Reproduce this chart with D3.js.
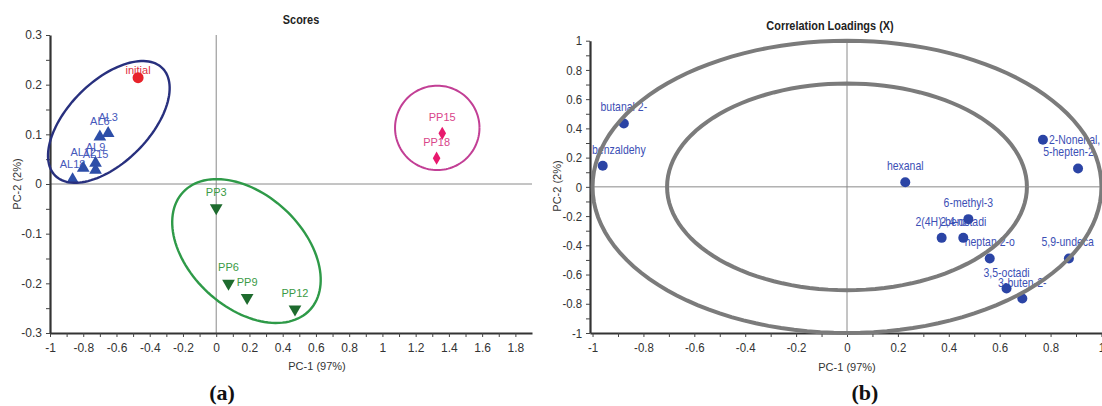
<!DOCTYPE html>
<html lang="en">
<head>
  <meta charset="UTF-8">
  <title>Scores / Correlation Loadings</title>
  <script src="https://cdn.jsdelivr.net/npm/d3@7"></script>
  <style>
    body { margin: 0; background: #fff; }
    svg text { font-family: "Liberation Sans", Arial, sans-serif; }
  </style>
</head>
<body>
<div id="grafica"></div>

<script>
// ---- data ----
// scores plot
const initialName = ['initial']
const initialPC1 = [-0.47]
const initialPC2 = [0.214]

const alNames = ['AL3', 'AL6', 'AL9', 'AL12', 'AL15', 'AL18']
const alPC1 = [-0.650, -0.700, -0.726, -0.800, -0.726, -0.864]
const alPC2 = [0.102, 0.095, 0.042, 0.032, 0.028, 0.009]

const ppNames = ['PP3', 'PP6', 'PP9', 'PP12']
const ppPC1 = [0.0, 0.074, 0.186, 0.474]
const ppPC2 = [-0.048, -0.200, -0.229, -0.252]

const pp2Names = ['PP15', 'PP18']
const pp2PC1 = [1.36, 1.326]
const pp2PC2 = [0.102, 0.052]

const scoreXTicks = [-1, -0.8, -0.6, -0.4, -0.2, 0, 0.2, 0.4, 0.6, 0.8, 1, 1.2, 1.4, 1.6, 1.8]
const scoreYTicks = [-0.3, -0.2, -0.1, 0, 0.1, 0.2, 0.3]

// correlation loadings
const loadNames = ['butanal 2-', 'benzaldehy', 'hexanal', '2-Nonenal,', '5-hepten-2', '6-methyl-3',
                   '2(4H)-benz', '2,4-octadi', 'heptan 2-o', '3,5-octadi', '3-buten-2-', '5,9-undeca']
const loadPC1 = [-0.877, -0.96, 0.229, 0.77, 0.908, 0.477, 0.372, 0.457, 0.561, 0.627, 0.689, 0.872]
const loadPC2 = [0.434, 0.144, 0.032, 0.322, 0.126, -0.221, -0.349, -0.349, -0.49, -0.696, -0.764, -0.49]

const loadTicks = [-1, -0.8, -0.6, -0.4, -0.2, 0, 0.2, 0.4, 0.6, 0.8, 1]

// ---- svg ----
svg = d3.select('#grafica')
  .append('svg')
  .attr('width', 1102)
  .attr('height', 406)

fmt = (d) => String(+d.toFixed(2))
NARROW = 0.84   // no Arial Narrow here, so squeeze horizontally

function ellipse(xs, ys, c, u, v) {
  pts = d3.range(0, 361, 3).map((t) => {
    a = t * Math.PI / 180
    return [xs(c[0] + u[0] * Math.cos(a) + v[0] * Math.sin(a)),
            ys(c[1] + u[1] * Math.cos(a) + v[1] * Math.sin(a))]
  })
  return d3.line()(pts)
}

function axes(g, xs, ys, xTicks, xStep, yTicks, yStep, narrow) {
  xAll = d3.range(Math.round(xTicks[0] / xStep), Math.round(d3.max(xTicks) / xStep) + 1).map(i => +(i * xStep).toFixed(3))
  yAll = d3.range(Math.round(yTicks[0] / yStep), Math.round(d3.max(yTicks) / yStep) + 1).map(i => +(i * yStep).toFixed(3))
  isMaj = (arr, d) => arr.some(t => Math.abs(t - d) < 1e-6)

  gx = g.append('g')
    .attr('transform', `translate(0, ${ys.range()[0]})`)
    .call(d3.axisBottom(xs).tickValues(xAll).tickSize(4).tickSizeOuter(0).tickPadding(6)
      .tickFormat(d => isMaj(xTicks, d) ? fmt(d) : ''))
  gy = g.append('g')
    .attr('transform', `translate(${xs.range()[0]}, 0)`)
    .call(d3.axisLeft(ys).tickValues(yAll).tickSize(4).tickSizeOuter(0).tickPadding(narrow ? 5 : 4)
      .tickFormat(d => isMaj(yTicks, d) ? fmt(d) : ''))

  ;[gx, gy].forEach(a => {
    a.select('.domain').attr('stroke', '#333').attr('stroke-width', 2.2)
    a.selectAll('line').attr('stroke', '#444')
    a.selectAll('text').attr('fill', '#333').style('font-size', narrow ? '13px' : '12px')
    if (narrow) a.selectAll('text').attr('transform', `scale(${NARROW + 0.04}, 1)`)
  })
}

// text squeezed like a condensed face
function narrowText(g, s, x, y, anchor) {
  return g.append('text').text(s)
    .attr('text-anchor', anchor || 'start')
    .attr('transform', `translate(${x}, ${y}) scale(${NARROW}, 1)`)
}

function labels(g, names, xv, yv, xs, ys, opts) {
  lo = xs.range()[0] + 2
  hi = opts.right
  k = opts.narrow ? NARROW : 1
  names.forEach((n, i) => {
    px = xs(xv[i]); py = ys(yv[i])
    side = (opts.side && opts.side[n]) || 'above'
    t = g.append('text')
      .text(n)
      .attr('fill', opts.color)
      .style('font-size', opts.size)
    w = t.node().getComputedTextLength() * k
    if (side === 'right') {
      tx = px + 6; ty = py + 4
    } else {
      dy = side === 'close' ? 4 : 12
      tx = Math.min(Math.max(px - w / 2, lo), hi - w); ty = py - dy
    }
    t.attr('transform', `translate(${tx}, ${ty}) scale(${k}, 1)`)
  })
}

// ================= (a) Scores =================
ga = svg.append('g')
xa = d3.scaleLinear().domain([-1, 1.9]).range([50, 532])
ya = d3.scaleLinear().domain([-0.3, 0.3]).range([333, 35])

// zero lines
ga.append('line').attr('x1', xa(0)).attr('x2', xa(0)).attr('y1', ya(0.3)).attr('y2', ya(-0.3))
  .attr('stroke', '#8a8a8a').attr('stroke-width', 1)
ga.append('line').attr('x1', xa(-1)).attr('x2', xa(1.9)).attr('y1', ya(0)).attr('y2', ya(0))
  .attr('stroke', '#8a8a8a').attr('stroke-width', 1)

axes(ga, xa, ya, scoreXTicks, 0.1, scoreYTicks, 0.05, false)

narrowText(ga, 'Scores', 301, 24, 'middle')
  .style('font-size', '13px').style('font-weight', 'bold').attr('fill', '#222')
ga.append('text').text('PC-1 (97%)')
  .attr('x', 317).attr('y', 370).attr('text-anchor', 'middle')
  .style('font-size', '11px').attr('fill', '#333')
ga.append('text').text('PC-2 (2%)')
  .attr('transform', 'translate(21, 184) rotate(-90)').attr('text-anchor', 'middle')
  .style('font-size', '11px').attr('fill', '#333')

// labels
labels(ga, alNames, alPC1, alPC2, xa, ya, { color: '#4658bb', size: '11px', right: 530 })
labels(ga, ppNames, ppPC1, ppPC2, xa, ya, { color: '#3b9a45', size: '11px', right: 530 })
labels(ga, pp2Names, pp2PC1, pp2PC2, xa, ya, { color: '#d9448a', size: '11px', right: 530 })
labels(ga, initialName, initialPC1, initialPC2, xa, ya, { color: '#e0303a', size: '11px', right: 530, side: { initial: 'close' } })

// marks
tri = d3.symbol().type(d3.symbolTriangle).size(70)
ga.selectAll('.al').data(alNames).enter().append('path')
  .attr('d', tri)
  .attr('transform', (d, i) => `translate(${xa(alPC1[i])}, ${ya(alPC2[i])})`)
  .attr('fill', '#2d4ea8')
ga.selectAll('.pp').data(ppNames).enter().append('path')
  .attr('d', tri)
  .attr('transform', (d, i) => `translate(${xa(ppPC1[i])}, ${ya(ppPC2[i])}) rotate(180)`)
  .attr('fill', '#1e6b2e')
ga.selectAll('.pp2').data(pp2Names).enter().append('path')
  .attr('d', d3.symbol().type(d3.symbolDiamond).size(50))
  .attr('transform', (d, i) => `translate(${xa(pp2PC1[i])}, ${ya(pp2PC2[i])})`)
  .attr('fill', '#e8196e')
ga.selectAll('.ini').data(initialName).enter().append('circle')
  .attr('cx', (d, i) => xa(initialPC1[i]))
  .attr('cy', (d, i) => ya(initialPC2[i]))
  .attr('r', 5.5)
  .attr('fill', '#e8232a')

// group ellipses
ga.append('path').attr('d', ellipse(xa, ya, [-0.646, 0.125], [0.323, 0.108], [0.172, -0.058]))
  .attr('fill', 'none').attr('stroke', '#28307e').attr('stroke-width', 2.4)
ga.append('path').attr('d', ellipse(xa, ya, [0.182, -0.135], [0.383, -0.118], [-0.230, -0.084]))
  .attr('fill', 'none').attr('stroke', '#2e9a48').attr('stroke-width', 2.4)
ga.append('path').attr('d', ellipse(xa, ya, [1.33, 0.113], [0.254, 0], [0, 0.085]))
  .attr('fill', 'none').attr('stroke', '#c23f95').attr('stroke-width', 2)

svg.append('text').text('(a)')
  .attr('x', 222).attr('y', 400).attr('text-anchor', 'middle')
  .style('font-family', '"Liberation Serif", "Times New Roman", serif')
  .style('font-weight', 'bold').style('font-size', '22px').attr('fill', '#111')

// ================= (b) Correlation loadings =================
gb = svg.append('g')
xb = d3.scaleLinear().domain([-1.01, 1.01]).range([590, 1104])
yb = d3.scaleLinear().domain([-1, 1]).range([333, 40.7])

gb.append('line').attr('x1', xb(0)).attr('x2', xb(0)).attr('y1', yb(1)).attr('y2', yb(-1))
  .attr('stroke', '#8a8a8a').attr('stroke-width', 1)
gb.append('line').attr('x1', xb(-1.01)).attr('x2', xb(1.01)).attr('y1', yb(0)).attr('y2', yb(0))
  .attr('stroke', '#8a8a8a').attr('stroke-width', 1)

axes(gb, xb, yb, loadTicks, 0.1, loadTicks, 0.1, true)

narrowText(gb, 'Correlation Loadings (X)', 830, 30, 'middle')
  .style('font-size', '13px').style('font-weight', 'bold').attr('fill', '#222')
gb.append('text').text('PC-1 (97%)')
  .attr('x', 847).attr('y', 371).attr('text-anchor', 'middle')
  .style('font-size', '11px').attr('fill', '#333')
gb.append('text').text('PC-2 (2%)')
  .attr('transform', 'translate(561, 186) rotate(-90)').attr('text-anchor', 'middle')
  .style('font-size', '11px').attr('fill', '#333')

labels(gb, loadNames, loadPC1, loadPC2, xb, yb,
  { color: '#3c4fb5', size: '12.5px', narrow: true, right: 1094, side: { '2-Nonenal,': 'right' } })

gb.selectAll('.ld').data(loadNames).enter().append('circle')
  .attr('cx', (d, i) => xb(loadPC1[i]))
  .attr('cy', (d, i) => yb(loadPC2[i]))
  .attr('r', 5)
  .attr('fill', '#2b44a5')

// 100% and 50% explained variance circles
;[1, Math.SQRT1_2].forEach(r => {
  gb.append('path').attr('d', ellipse(xb, yb, [0, 0], [r, 0], [0, r]))
    .attr('fill', 'none').attr('stroke', '#7b7b7b').attr('stroke-width', 4)
})

svg.append('text').text('(b)')
  .attr('x', 865).attr('y', 400).attr('text-anchor', 'middle')
  .style('font-family', '"Liberation Serif", "Times New Roman", serif')
  .style('font-weight', 'bold').style('font-size', '22px').attr('fill', '#111')
</script>
</body>
</html>
